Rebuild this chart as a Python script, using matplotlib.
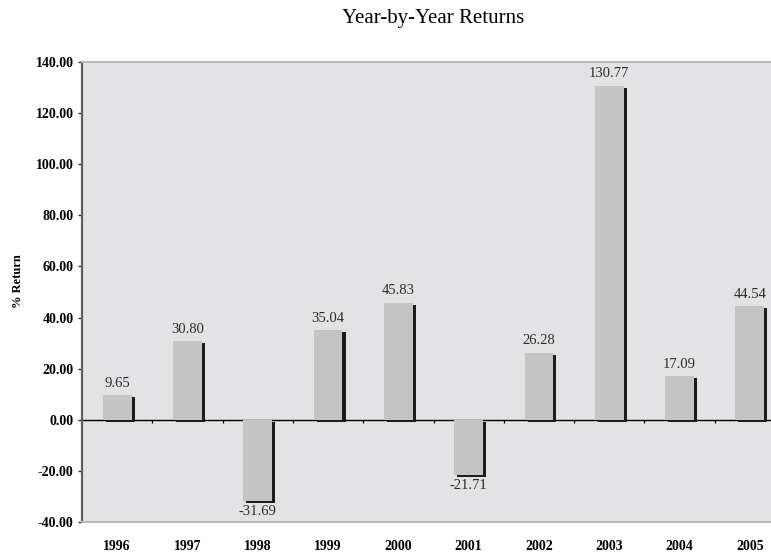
import matplotlib
matplotlib.use('Agg')
import matplotlib.pyplot as plt
import matplotlib.patheffects as pe
import numpy as np

years = ['1996', '1997', '1998', '1999', '2000', '2001', '2002', '2003', '2004', '2005']
returns = [9.65, 30.80, -31.69, 35.04, 45.83, -21.71, 26.28, 130.77, 17.09, 44.54]
yticks = [-40, -20, 0, 20, 40, 60, 80, 100, 120, 140]

plt.rcParams['font.family'] = ['Liberation Serif', 'DejaVu Serif']

W, H = 771, 552
fig = plt.figure(figsize=(W / 100, H / 100), dpi=100)
# plot area: x 82..785 px (runs past the right edge), y 62..522 px
ax = fig.add_axes([82 / W, (H - 522) / H, 703 / W, 460 / H])
ax.set_facecolor('#e3e3e5')

x = np.arange(len(years))
bars = ax.bar(x, returns, width=0.41, color='#c4c4c4', zorder=3)
for b in bars:
    b.set_path_effects([pe.SimplePatchShadow(offset=(2.2, -1.5), shadow_rgbFace='#1c1c1c', alpha=1.0),
                        pe.Normal()])

# zero line and its small ticks between categories
ax.axhline(0, color='black', lw=1.0, zorder=2)
ax.vlines(x[:-1] + 0.5, -1.3, 0, color='black', lw=0.9, zorder=2)

for xi, v in zip(x, returns):
    if v >= 0:
        ax.text(xi, v + 3.2, f'{v:.2f}', ha='center', va='baseline', fontsize=10.5, color='#2a2a2a', zorder=4)
    else:
        ax.text(xi, v - 1.6, f'{v:.2f}', ha='center', va='top', fontsize=10.5, color='#2a2a2a', zorder=4)

ax.set_xlim(-0.5, 9.5)
ax.set_ylim(-40, 140)
ax.set_yticks(yticks)
ax.set_yticklabels([f'{t:.2f}' for t in yticks], fontweight='bold', fontsize=10)
ax.set_xticks(x)
ax.set_xticklabels(years, fontweight='bold', fontsize=10)
ax.tick_params(axis='x', length=0, pad=13)
ax.tick_params(axis='y', length=3, width=1, direction='out', pad=3, color='#333333')

ax.spines['left'].set_color('#5e5e5e')
ax.spines['left'].set_linewidth(1.6)
ax.spines['top'].set_color('#b8b8b8')
ax.spines['top'].set_linewidth(1.4)
ax.spines['bottom'].set_color('#b8b8b8')
ax.spines['bottom'].set_linewidth(1.4)
ax.spines['right'].set_visible(False)

ax.set_ylabel('% Return', fontweight='bold', fontsize=9)
ax.yaxis.set_label_coords(-0.083, 0.524)
# title is centred over the plot area
fig.text((82 + 703 / 2) / W, 1 - 19 / H, 'Year-by-Year Returns', ha='center', va='center', fontsize=15)

fig.savefig('out.png', dpi=100)
